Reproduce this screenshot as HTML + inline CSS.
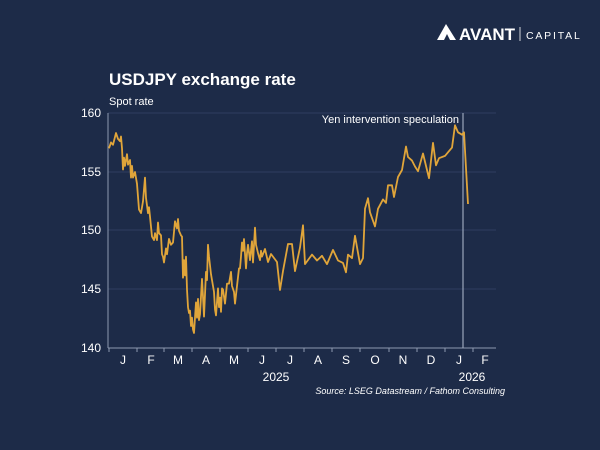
<!DOCTYPE html>
<html><head><meta charset="utf-8"><style>
html,body{margin:0;padding:0;background:#1d2b48;}
svg{display:block;font-family:"Liberation Sans",sans-serif;}
</style></head><body>
<svg width="600" height="450" viewBox="0 0 600 450">
<rect width="600" height="450" fill="#1d2b48"/>
<!-- logo -->
<path d="M446 24 L437 40 L444 40 L447 34 L450 40 L456 40 Z" fill="#fff"/>
<text x="459" y="40" font-size="17" font-weight="bold" fill="#fff">AVANT</text>
<line x1="520" y1="27" x2="520" y2="41" stroke="#fff" stroke-width="0.8"/>
<text x="526" y="39" font-size="10.5" fill="#fff" letter-spacing="1.8">CAPITAL</text>
<text x="109" y="85" font-size="17" font-weight="bold" fill="#fff">USDJPY exchange rate</text>
<text x="109" y="105" font-size="11" fill="#fff">Spot rate</text>
<g stroke="#34466a" stroke-width="0.8">
<line x1="108" y1="113" x2="496" y2="113"/><line x1="108" y1="172" x2="496" y2="172"/>
<line x1="108" y1="230" x2="496" y2="230"/><line x1="108" y1="289" x2="496" y2="289"/>
</g>
<g stroke="#8d99b0" stroke-width="1">
<line x1="108" y1="113" x2="108" y2="348"/><line x1="108" y1="348" x2="496" y2="348"/>
<line x1="109" y1="348" x2="109" y2="352"/><line x1="137" y1="348" x2="137" y2="352"/><line x1="164" y1="348" x2="164" y2="352"/><line x1="192" y1="348" x2="192" y2="352"/><line x1="220" y1="348" x2="220" y2="352"/><line x1="248" y1="348" x2="248" y2="352"/><line x1="276" y1="348" x2="276" y2="352"/><line x1="304" y1="348" x2="304" y2="352"/><line x1="332" y1="348" x2="332" y2="352"/><line x1="360" y1="348" x2="360" y2="352"/><line x1="389" y1="348" x2="389" y2="352"/><line x1="417" y1="348" x2="417" y2="352"/><line x1="445" y1="348" x2="445" y2="352"/><line x1="473" y1="348" x2="473" y2="352"/>
</g>
<g font-size="12" fill="#fff" text-anchor="end">
<text x="101" y="117">160</text><text x="101" y="176">155</text><text x="101" y="234">150</text><text x="101" y="293">145</text><text x="101" y="352">140</text>
</g>
<g font-size="12" fill="#fff" text-anchor="middle">
<text x="123" y="364">J</text><text x="151" y="364">F</text><text x="178" y="364">M</text><text x="206" y="364">A</text><text x="234" y="364">M</text><text x="262" y="364">J</text><text x="290" y="364">J</text><text x="318" y="364">A</text><text x="346" y="364">S</text><text x="375" y="364">O</text><text x="403" y="364">N</text><text x="431" y="364">D</text><text x="459" y="364">J</text><text x="485" y="364">F</text>
<text x="276" y="381">2025</text><text x="472" y="381">2026</text>
</g>
<text x="505" y="394" font-size="9" font-style="italic" fill="#fff" text-anchor="end">Source: LSEG Datastream / Fathom Consulting</text>
<line x1="463" y1="113" x2="463" y2="348" stroke="#9aa6bb" stroke-width="1.2"/>
<text x="459" y="123" font-size="11" fill="#fff" text-anchor="end">Yen intervention speculation</text>
<polyline fill="none" stroke="#e0a53a" stroke-width="1.8" stroke-linejoin="round" points="
109,148.3 111,142.4 113,144.8 116,133 118,138.9 120,141.2 121,136.5 122,148.3 123,169.5 124,157.7 125,165.9 127,154.2 128,164.7 130,160 131,177.6 132,165.9 133,177.6 135,172 137,183.8 139,209.6 141,213.1 143,201.4 145,177.6 146,197.9 148,213.1 149,207.2 150,216.6 152,236.6 154,240.1 155,233.1 157,240.1 158,222.5 159,233.1 161,235.4 162,254.2 163,256.6 164,262.5 166,248.4 167,254.2 169,238.9 171,244.8 173,242.5 175,221.3 177,228.4 178,219 179,230.8 181,235.4 182,236.6 183,277.7 184,260.1 185,275.4 186,256.6 187,289.5 188,307.1 189,313 190,310.7 191,326 192,317.7 193,329.5 194,333 196,302.4 197,317.7 198,298.9 199,320.1 200,314.2 202,278.9 203,296.6 204,316.6 206,271.9 207,280.1 208,244.8 209,256.6 211,274.2 212,280.1 214,291.9 215,309.5 216,315.4 218,288.4 219,307.1 220,297.7 221,311.8 222,288.4 223,289.5 225,303.6 227,283.6 229,283.6 231,271.9 232,286 234,291.9 235,303.6 237,286 239,268.4 240,268.4 241,256.6 242,242.5 243,250.8 244,239 246,268.4 247,253.1 248,244.8 250,260.1 252,241.3 253,262.5 255,227.7 256,244.8 258,253.1 260,260.1 261,250.8 262,256.6 265,249 268,262 271,254 274,258 277,262 280,290 283,271.1 288,244 292,244 295,271.1 300,247.6 303,225.3 305,264.1 312,254.6 317,260.5 322,255.8 327,264.1 333,249.9 338,260.5 343,262.9 346,272.3 348,254.6 352,258.1 355,235.8 360,264.1 363,258.1 365,208.8 368,198.2 370,212.3 375,226.4 378,208.8 383,199.4 386,202.9 388,185.3 392,185.3 394,197 398,177 402,170 406,146.5 408,157 412,160.6 415,166.5 418,171.2 423,153.5 427,170 429,178.2 433,142.9 436,165.3 439,158.2 445,155.9 448,152.3 452,147.6 455,125.3 458,132.3 462,134.7 464,132.3 468,204"/>
</svg>
</body></html>
